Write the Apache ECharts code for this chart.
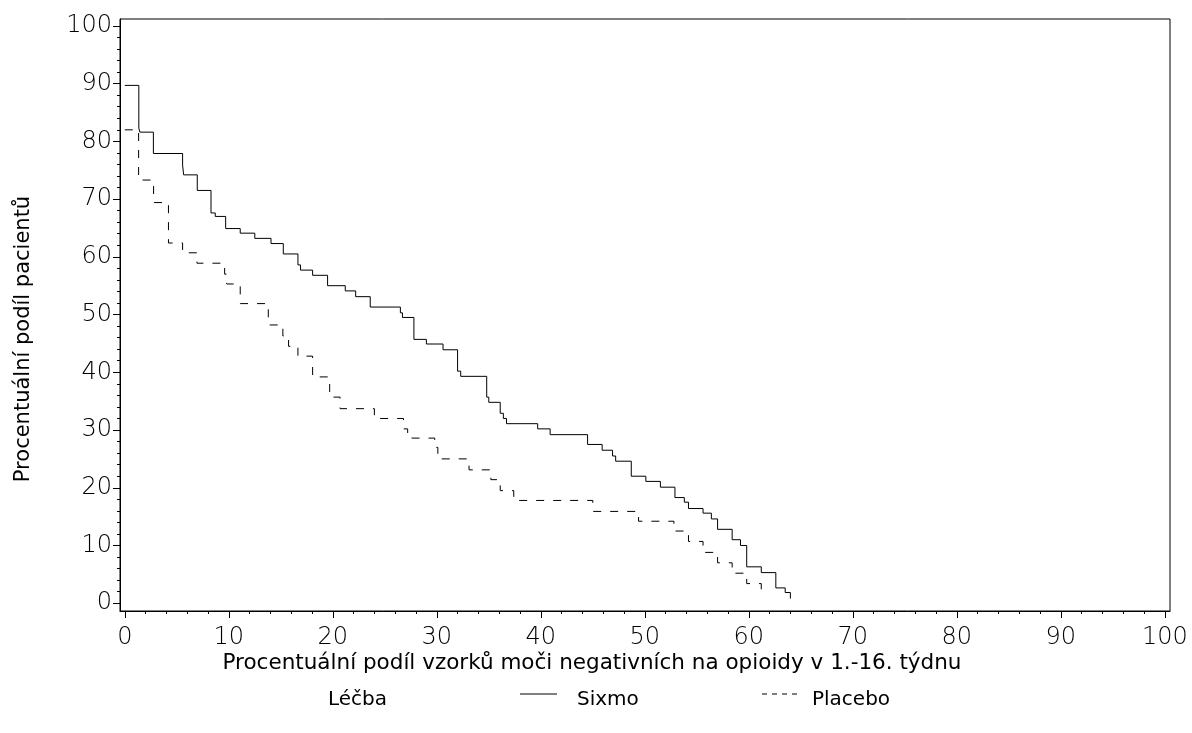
<!DOCTYPE html>
<html>
<head>
<meta charset="utf-8">
<script src="https://cdn.jsdelivr.net/npm/echarts@6/dist/echarts.min.js"></script>
<style>
  html, body { margin: 0; padding: 0; background: #fff; }
  #chart { width: 1192px; height: 733px; }
</style>
</head>
<body>
<div id="chart"></div>
<script>
// x = percent of negative urine samples, y = percent of patients (step starts)
let sixmoX = [0, 1.35, 1.45, 2.75, 5.56, 5.66, 6.97, 8.29, 8.7, 9.7, 11.1, 12.5, 14.06, 15.24, 16.65, 16.9,
    18.06, 19.5, 21.2, 22.2, 23.6, 26.5, 26.7, 27.8, 29.0, 30.6, 32.0, 32.3, 34.8, 35.0, 36.1, 36.4, 36.7,
    39.7, 40.9, 44.5, 45.9, 46.9, 47.2, 48.7, 50.1, 51.5, 52.9, 53.8, 54.2, 55.6, 56.4, 57.0, 58.4, 59.2,
    59.8, 61.2, 62.6, 63.5, 64.0];
let sixmoY = [89.7, 82.3, 81.6, 77.9, 75.9, 74.2, 71.5, 67.6, 67.0, 64.9, 64.1, 63.2, 62.3, 60.5, 58.6, 57.7,
    56.8, 55.0, 54.1, 53.1, 51.3, 50.3, 49.5, 45.7, 44.9, 43.9, 40.2, 39.3, 35.7, 34.8, 32.9, 32.0, 31.1,
    30.2, 29.2, 27.5, 26.5, 25.5, 24.6, 22.0, 21.1, 20.1, 18.3, 17.5, 16.4, 15.6, 14.6, 12.8, 11.0, 10.0,
    6.3, 5.3, 2.65, 1.85, 0.8];

let placeboX = [0, 1.33, 2.77, 4.2, 5.56, 6.94, 9.6, 9.8, 11.1, 13.8, 15.2, 15.75, 16.65, 18.06, 19.7, 20.7,
    24.0, 26.8, 27.2, 29.8, 30.1, 33.1, 35.2, 36.1, 37.4, 45.0, 49.4, 52.8, 54.2, 55.6, 57.0, 58.4, 59.8, 61.2];
let placeboY = [82.0, 73.3, 69.4, 62.4, 60.7, 58.9, 57.0, 55.3, 51.9, 48.2, 46.3, 44.5, 42.8, 39.2, 35.7, 33.7,
    32.0, 30.2, 28.6, 27.0, 25.0, 23.1, 21.4, 19.5, 17.8, 15.9, 14.2, 12.5, 10.7, 8.8, 7.0, 5.2, 3.4, 1.7];

let majorTicks = [0, 10, 20, 30, 40, 50, 60, 70, 80, 90, 100];
let minorTicks = [];
for (let v = 0; v <= 100; v += 2) minorTicks.push(v);

let labelFont = { color: '#000', fontFamily: 'DejaVu Sans, sans-serif', fontWeight: 200, fontSize: 24 };
let titleFont = 'DejaVu Sans, sans-serif';

function zip(xs, ys) {
    return xs.map((x, i) => [x, ys[i]]);
}

function makeAxis(min, max, major, pos) {
    return {
        type: 'value',
        position: pos,
        min: min,
        max: max,
        splitLine: { show: false },
        axisLine: { show: major, onZero: false, lineStyle: { color: '#000', width: 1 } },
        axisTick: {
            show: true,
            customValues: major ? majorTicks : minorTicks,
            length: major ? 7 : 3,
            lineStyle: { color: '#000', width: 1 }
        },
        axisLabel: major
            ? Object.assign({ show: true, customValues: majorTicks, margin: pos === 'bottom' ? 15 : 8 }, labelFont)
            : { show: false }
    };
}

let chart = echarts.init(document.getElementById('chart'), null, { renderer: 'canvas' });

let legendY = 700;

let option = {
    animation: false,
    backgroundColor: '#fff',
    grid: {
        left: 120, right: 22, top: 19, bottom: 122,
        show: true, borderColor: '#000', borderWidth: 1
    },
    xAxis: [makeAxis(-0.46, 100.5, true, 'bottom'), makeAxis(-0.46, 100.5, false, 'bottom')],
    yAxis: [makeAxis(-1.35, 101.2, true, 'left'), makeAxis(-1.35, 101.2, false, 'left')],
    graphic: [
        {
            type: 'text', x: 592, y: 663,
            style: {
                text: 'Procentuální podíl vzorků moči negativních na opioidy v 1.-16. týdnu',
                fill: '#000', font: '21.5px ' + titleFont, textAlign: 'center', textVerticalAlign: 'middle'
            }
        },
        {
            type: 'text', x: 24, y: 339, rotation: Math.PI / 2,
            style: {
                text: 'Procentuální podíl pacientů',
                fill: '#000', font: '21px ' + titleFont, textAlign: 'center', textVerticalAlign: 'middle'
            }
        },
        // legend row
        {
            type: 'text', x: 328, y: legendY,
            style: { text: 'Léčba', fill: '#000', font: '20px ' + titleFont, textVerticalAlign: 'middle' }
        },
        {
            type: 'line', shape: { x1: 520, y1: legendY - 6, x2: 557, y2: legendY - 6 },
            style: { stroke: '#000', lineWidth: 1 }
        },
        {
            type: 'text', x: 577, y: legendY,
            style: { text: 'Sixmo', fill: '#000', font: '20px ' + titleFont, textVerticalAlign: 'middle' }
        },
        {
            type: 'line', shape: { x1: 762, y1: legendY - 6, x2: 797, y2: legendY - 6 },
            style: { stroke: '#000', lineWidth: 1, lineDash: [5, 5] }
        },
        {
            type: 'text', x: 812, y: legendY,
            style: { text: 'Placebo', fill: '#000', font: '20px ' + titleFont, textVerticalAlign: 'middle' }
        }
    ],
    series: [
        {
            name: 'Sixmo', type: 'line', step: 'end', showSymbol: false, symbol: 'none',
            data: zip(sixmoX, sixmoY),
            lineStyle: { color: '#000', width: 1, type: 'solid' }
        },
        {
            name: 'Placebo', type: 'line', step: 'end', showSymbol: false, symbol: 'none',
            data: zip(placeboX, placeboY),
            lineStyle: { color: '#000', width: 1, type: [8, 9] }
        }
    ]
};

chart.setOption(option);
</script>
</body>
</html>
